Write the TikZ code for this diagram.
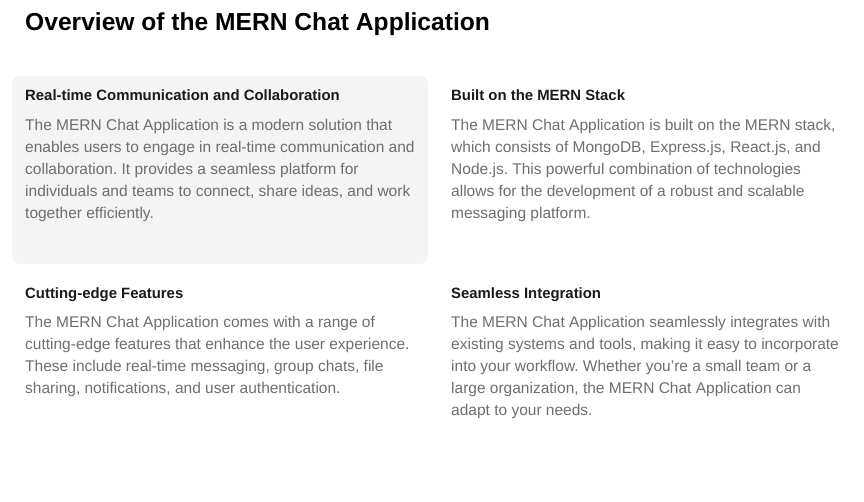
\documentclass[tikz,border=0pt]{standalone}
\usepackage{fontspec}
\setmainfont{Liberation Sans}
\usetikzlibrary{calc,positioning}
\definecolor{headcol}{HTML}{1A1A1A}
\definecolor{bodycol}{HTML}{6E6E6E}
\definecolor{cardcol}{HTML}{F4F4F4}
\frenchspacing
\begin{document}
\begin{tikzpicture}[x=1pt,y=-1pt, every node/.style={inner sep=0pt,anchor=base west},
        title/.style={font=\fontsize{24.6}{30}\selectfont\bfseries, text=black},
        head/.style={font=\fontsize{14.9}{18}\selectfont\bfseries, text=headcol},
        body/.style={font=\fontsize{15.5}{22}\selectfont, text=bodycol, align=left}]
        \useasboundingbox (0,0) rectangle (864,501);
        \coordinate (1) at (25,30);
        \coordinate (2) at (25,100);
        \coordinate (3) at (451,100);
        \coordinate (4) at (25,298);
        \coordinate (5) at (451,298);
        \fill[cardcol, rounded corners=8pt] (12,76) rectangle (428,264);

        \node[title] (title) at (1) {Overview of the MERN Chat Application};

        % body nodes sit on their last line
        \node[head] (realtime) at (2) {Real-time Communication and Collaboration};
        \node[body] (realtimetxt) at ($(2)+(0,118)$) {The MERN Chat Application is a modern solution that\\
            enables users to engage in real-time communication and\\
            collaboration. It provides a seamless platform for\\
            individuals and teams to connect, share ideas, and work\\
            together efficiently.};

        \node[head] (stack) at (3) {Built on the MERN Stack};
        \node[body] (stacktxt) at ($(3)+(0,118)$) {The MERN Chat Application is built on the MERN stack,\\
            which consists of MongoDB, Express.js, React.js, and\\
            Node.js. This powerful combination of technologies\\
            allows for the development of a robust and scalable\\
            messaging platform.};

        \node[head] (features) at (4) {Cutting-edge Features};
        \node[body] (featurestxt) at ($(4)+(0,95)$) {The MERN Chat Application comes with a range of\\
            cutting-edge features that enhance the user experience.\\
            These include real-time messaging, group chats, file\\
            sharing, notifications, and user authentication.};

        \node[head] (integration) at (5) {Seamless Integration};
        \node[body] (integrationtxt) at ($(5)+(0,117)$) {The MERN Chat Application seamlessly integrates with\\
            existing systems and tools, making it easy to incorporate\\
            into your workflow. Whether you're a small team or a\\
            large organization, the MERN Chat Application can\\
            adapt to your needs.};
    \end{tikzpicture}
\end{document}
